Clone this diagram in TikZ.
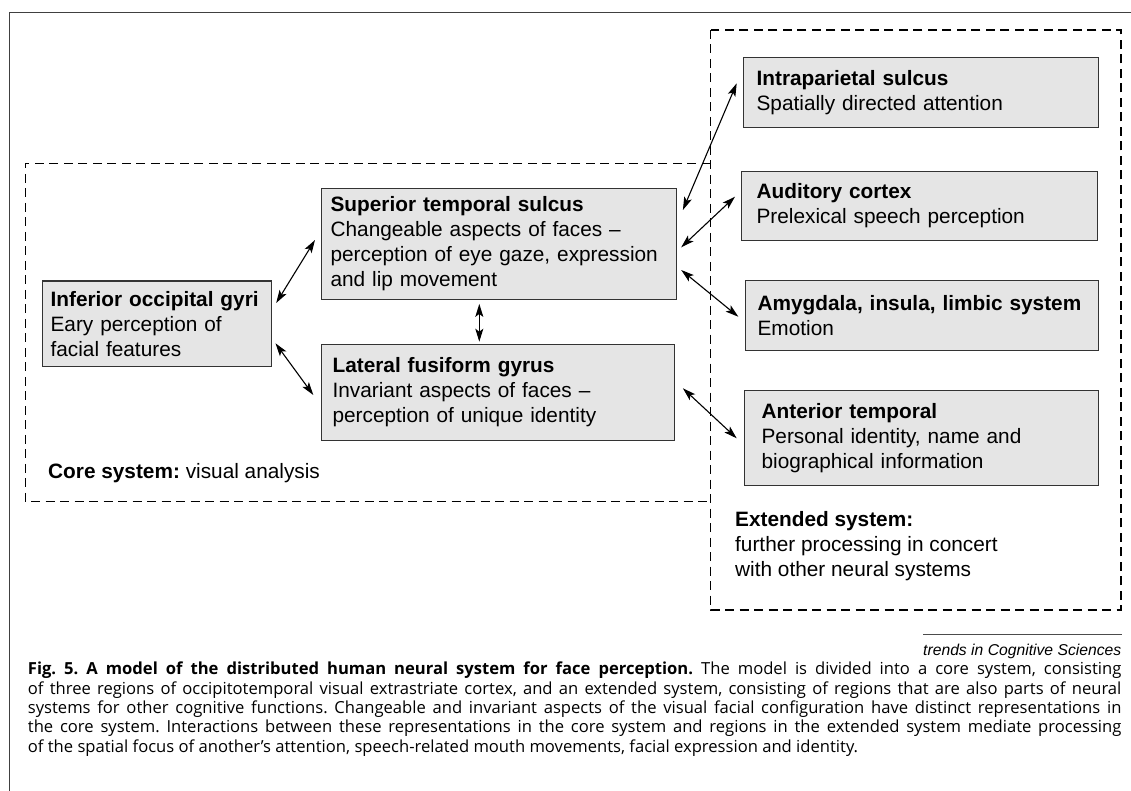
\documentclass[tikz,border=0pt]{standalone}
\usepackage{fontspec}
\setmainfont{Liberation Sans}
\newfontfamily\capfont{Open Sans}
\usetikzlibrary{arrows.meta}
\begin{document}
\frenchspacing
\begin{tikzpicture}[x=1pt,y=-1pt,
  region/.style={draw=black!80, line width=1.2pt, fill=black!10, anchor=north west,
    inner ysep=0pt, align=left, font=\fontsize{20.8}{25}\selectfont, text=black},
  sysline/.style={draw=black, line width=1.1pt, dash pattern=on 9pt off 5.5pt},
  link/.style={line width=1.1pt, {Stealth[length=13pt,width=8pt,inset=3pt]}-{Stealth[length=13pt,width=8pt,inset=3pt]}},
  plain/.style={inner sep=0pt, font=\fontsize{20.8}{25}\selectfont, align=left},
]
\useasboundingbox (0,0) rectangle (1131,791);
\fill[white] (0,0) rectangle (1131,791);
% outer frame
\draw[black!75, line width=1.2pt] (9.5,791) -- (9.5,12.5) -- (1131,12.5);

% system outlines
\draw[sysline] (710.7,163.3) -- (25.3,163.3) -- (25.3,501.5) -- (710.7,501.5);
\draw[sysline] (710.7,30) rectangle (1121,610);

% core regions
\node[region, minimum width=229.5pt, minimum height=85.5pt, inner xsep=8.5pt, text width=212.5pt]
  (iog) at (41.5,280.5) {\textbf{Inferior occipital gyri}\\Eary perception of\\facial features};
\node[region, minimum width=354.5pt, minimum height=111pt, inner xsep=9pt, text width=336.5pt]
  (sts) at (321,188) {\textbf{Superior temporal sulcus}\\Changeable aspects of faces –\\perception of eye gaze, expression\\and lip movement};
\node[region, minimum width=353pt, minimum height=95.5pt, inner xsep=11pt, text width=331pt]
  (lfg) at (321,344) {\textbf{Lateral fusiform gyrus}\\Invariant aspects of faces –\\perception of unique identity};

% extended regions
\node[region, minimum width=355pt, minimum height=70pt, inner xsep=13pt, text width=329pt]
  (ips) at (743,57) {\textbf{Intraparietal sulcus}\\Spatially directed attention};
\node[region, minimum width=356pt, minimum height=69pt, inner xsep=15pt, text width=326pt]
  (aud) at (741,171) {\textbf{Auditory cortex}\\Prelexical speech perception};
\node[region, minimum width=353pt, minimum height=70pt, inner xsep=12pt, text width=329pt]
  (amy) at (745,280) {\textbf{Amygdala, insula, limbic system}\\Emotion};
\node[region, minimum width=354pt, minimum height=95pt, inner xsep=17pt, text width=320pt]
  (ant) at (744,390) {\textbf{Anterior temporal}\\Personal identity, name and\\biographical information};

% labels of systems
\node[plain, anchor=west] (corelabel) at (48,473) {\textbf{Core system:} visual analysis};
\node[plain, anchor=west] (extlabel) at (735,546) {\textbf{Extended system:}\\further processing in concert\\with other neural systems};

% connectors
\draw[link] ([shift={(4,22.5)}]iog.north east) -- ([shift={(-6,52)}]sts.north west);
\draw[link] ([shift={(3.3,62.8)}]iog.north east) -- ([shift={(-7.7,51)}]lfg.north west);
\draw[link] ([shift={(158.3,3.7)}]sts.south west) -- ([shift={(158.3,-2.3)}]lfg.north west);
\draw[link] ([shift={(6.2,22)}]sts.north east) -- ([shift={(-6.3,26.3)}]ips.north west);
\draw[link] ([shift={(4.5,59.3)}]sts.north east) -- ([shift={(-6,25.7)}]aud.north west);
\draw[link] ([shift={(4.5,82)}]sts.north east) -- ([shift={(-6.7,36.7)}]amy.north west);
\draw[link] ([shift={(7.7,44.3)}]lfg.north east) -- ([shift={(-7.3,48.3)}]ant.north west);

% source line
\coordinate (srcL) at (923,634);
\coordinate (srcR) at (1121.5,634);
\draw[black!70, line width=0.8pt] (srcL) -- (srcR);
\node[anchor=base east, inner sep=0pt, font=\itshape\fontsize{15.7}{18}\selectfont] (src) at (1121.5,655) {trends in Cognitive Sciences};

% caption
\node[anchor=north west, inner sep=0pt, align=left, font=\capfont\fontsize{16.6}{19.3}\selectfont] (cap) at (27.7,662) {%
\hbox to 1093.5pt{\textbf{Fig. 5. A model of the distributed human neural system for face perception.} The model is divided into a core system, consisting}\\
\hbox to 1093.5pt{of three regions of occipitotemporal visual extrastriate cortex, and an extended system, consisting of regions that are also parts of neural}\\
\hbox to 1093.5pt{systems for other cognitive functions. Changeable and invariant aspects of the visual facial configuration have distinct representations in}\\
\hbox to 1093.5pt{the core system. Interactions between these representations in the core system and regions in the extended system mediate processing}\\
of the spatial focus of another’s attention, speech-related mouth movements, facial expression and identity.};
\end{tikzpicture}
\end{document}
